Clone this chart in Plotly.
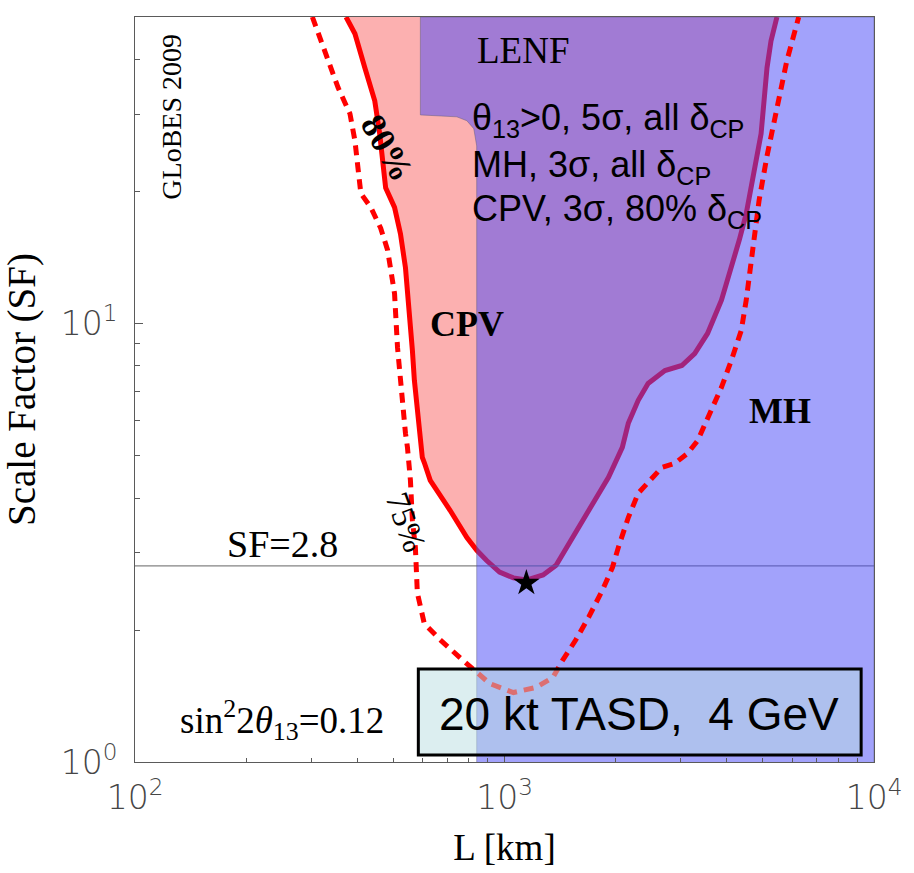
import plotly.graph_objects as go

# ---------------- data ----------------
# CPV 80% delta_CP contour (solid): L [km], SF
cpv80_L = [372.5, 393.8, 418.8, 445.5, 459.4, 470.9, 476.8, 504.0, 523.0, 539.5,
           549.6, 563.3, 570.3, 580.9, 588.1, 599.2, 606.6, 629.5, 712.2, 791.0,
           841.2, 894.6, 969.6, 1057, 1146, 1272, 1379, 1494, 1629, 1765,
           1912, 2084, 2163, 2301, 2447, 2718, 3020, 3271, 3544, 3865,
           4111, 4319, 4510, 4738, 4948, 5134, 5263, 5462]
cpv80_SF = [50, 45.8, 38.3, 32.2, 27.1, 22.7, 20.4, 18.4, 16.0, 13.4,
            11.3, 8.68, 7.42, 6.34, 5.71, 4.95, 4.82, 4.39, 3.75, 3.25,
            3.04, 2.88, 2.71, 2.63, 2.60, 2.67, 2.81, 3.15, 3.56, 3.95,
            4.46, 5.22, 5.92, 6.68, 7.30, 7.81, 8.02, 8.54, 9.49, 11.3,
            13.4, 15.5, 17.8, 22.7, 27.1, 38.3, 44.1, 50]

# CPV 75% delta_CP contour (dashed)
cpv75_L = [302, 327.2, 354.5, 381.7, 393.8, 401.1, 408.6, 434.6, 462.3, 482.7,
           504.0, 513.4, 523.0, 529.5, 539.5, 546.2, 556.4, 563.3, 573.8, 577.4,
           580.9, 606.6, 669.6, 757.5, 825.9, 911.8, 1057, 1218, 1353, 1439,
           1560, 1690, 1843, 1960, 2034, 2163, 2301, 2508, 2669, 2891,
           3133, 3333, 3544, 3865, 4111, 4373, 4510, 4680, 4887, 5134,
           5462, 5808, 6255]
cpv75_SF = [50, 41.9, 34.5, 30.1, 26.1, 22.7, 19.8, 18.4, 16.5, 14.7,
            11.7, 8.82, 7.42, 6.24, 5.62, 5.22, 4.39, 3.56, 3.09, 2.74,
            2.43, 2.07, 1.90, 1.73, 1.62, 1.51, 1.44, 1.48, 1.56, 1.71,
            1.90, 2.14, 2.47, 2.78, 3.09, 3.61, 4.10, 4.46, 4.70, 4.80,
            5.06, 5.41, 6.11, 7.15, 8.24, 9.64, 11.3, 14.7, 19.1, 24.1,
            31.4, 39.7, 50]

# MH 3 sigma region (blue)
mh_L = [841, 841, 826, 791, 743, 592, 592, 10000, 10000]
mh_SF = [1, 25.4, 27.8, 29.0, 29.6, 29.9, 50, 50, 1]

sf_ref = 2.8
L_range = [100, 10000]
star_L = [1146]
star_SF = [2.56]

x_tickvals = [100, 1000, 10000]
x_ticktext = ["10<sup>2</sup>", "10<sup>3</sup>", "10<sup>4</sup>"]
y_tickvals = [1, 10]
y_ticktext = ["10<sup>0</sup>", "10<sup>1</sup>"]
x_minor = [200, 300, 400, 500, 600, 700, 800, 900,
           2000, 3000, 4000, 5000, 6000, 7000, 8000, 9000]
y_minor = [2, 3, 4, 5, 6, 7, 8, 9, 20, 30, 40]

# ---------------- figure ----------------
fig = go.Figure()

fig.add_trace(go.Scatter(x=cpv80_L, y=cpv80_SF, mode="lines", fill="toself",
                         fillcolor="rgb(252,176,176)", line=dict(width=0),
                         hoverinfo="skip", showlegend=False))
fig.add_trace(go.Scatter(x=cpv80_L, y=cpv80_SF, mode="lines",
                         line=dict(color="rgb(255,0,0)", width=5),
                         showlegend=False))
fig.add_trace(go.Scatter(x=L_range, y=[sf_ref, sf_ref], mode="lines",
                         line=dict(color="rgb(100,100,100)", width=1),
                         showlegend=False))
fig.add_trace(go.Scatter(x=mh_L, y=mh_SF, mode="lines", fill="toself",
                         fillcolor="rgba(70,70,248,0.5)",
                         line=dict(color="rgba(90,90,120,0.45)", width=1),
                         showlegend=False))
fig.add_trace(go.Scatter(x=cpv75_L, y=cpv75_SF, mode="lines",
                         line=dict(color="rgb(255,0,0)", width=5, dash="10px,7px"),
                         showlegend=False))
fig.add_trace(go.Scatter(x=star_L, y=star_SF, mode="markers",
                         marker=dict(symbol="star", size=20, color="black"),
                         showlegend=False))

# label box
fig.add_shape(type="rect", xref="paper", yref="paper",
              x0=0.3834, x1=0.9826, y0=0.0094, y1=0.1248,
              fillcolor="rgba(185,221,225,0.5)", line=dict(color="black", width=3),
              layer="above")

serif = "Liberation Serif"
sans = "Liberation Sans"
ann = []
def A(text, x, y, size, family=serif, angle=0, xanchor="center", yanchor="middle"):
    ann.append(dict(text=text, x=x, y=y, xref="paper", yref="paper", showarrow=False,
                    font=dict(family=family, size=size, color="black"),
                    textangle=angle, xanchor=xanchor, yanchor=yanchor))

A("GLoBES 2009", 0.0496, 0.8658, 28, angle=-90)
A("LENF", 0.5255, 0.9544, 37)
A("θ<sub>13</sub>>0, 5σ, all δ<sub>CP</sub>", 0.4531, 0.8620, 36, family=sans, xanchor="left")
A("MH, 3σ, all δ<sub>CP</sub>", 0.4531, 0.7985, 36, family=sans, xanchor="left")
A("CPV, 3σ, 80% δ<sub>CP</sub>", 0.4531, 0.7390, 36, family=sans, xanchor="left")
A("<b>80%</b>", 0.3405, 0.8242, 35, angle=60)
A("75%", 0.366, 0.3215, 33, angle=70)
A("<b>CPV</b>", 0.449, 0.588, 36)
A("<b>MH</b>", 0.8727, 0.4711, 36)
A("SF=2.8", 0.1997, 0.2926, 38)
A("sin<sup>2</sup>2<i>θ</i><sub>13</sub>=0.12", 0.199, 0.0564, 37)
A("20 kt TASD,  4 GeV", 0.6823, 0.0644, 46, family=sans)

tickfont = dict(family="DejaVu Sans", size=33, color="rgb(70,70,70)", weight=200)

fig.update_layout(
    width=914, height=873,
    margin=dict(l=135, r=33, t=17, b=111),
    paper_bgcolor="white", plot_bgcolor="white",
    annotations=ann,
    xaxis=dict(type="log", range=[2, 4], showgrid=False, zeroline=False,
               showline=True, linecolor="rgb(90,90,90)", linewidth=1, mirror=True,
               tickmode="array", tickvals=x_tickvals, ticktext=x_ticktext,
               ticks="inside", ticklen=6, tickcolor="rgb(90,90,90)",
               minor=dict(tickmode="array", tickvals=x_minor, ticks="inside",
                          ticklen=4, tickcolor="rgb(90,90,90)", showgrid=False),
               tickfont=tickfont, ticklabelstandoff=6,
               title=dict(text="L [km]", font=dict(family=serif, size=37, color="black"),
                          standoff=18)),
    yaxis=dict(type="log", range=[0, 1.69897], showgrid=False, zeroline=False,
               showline=True, linecolor="rgb(90,90,90)", linewidth=1, mirror=True,
               tickmode="array", tickvals=y_tickvals, ticktext=y_ticktext,
               ticks="inside", ticklen=8, tickcolor="rgb(90,90,90)",
               minor=dict(tickmode="array", tickvals=y_minor, ticks="inside",
                          ticklen=5, tickcolor="rgb(90,90,90)", showgrid=False),
               tickfont=tickfont, ticklabelstandoff=10,
               title=dict(text="Scale Factor (SF)",
                          font=dict(family=serif, size=39, color="black"),
                          standoff=14)),
)

fig.write_html("out.html")
